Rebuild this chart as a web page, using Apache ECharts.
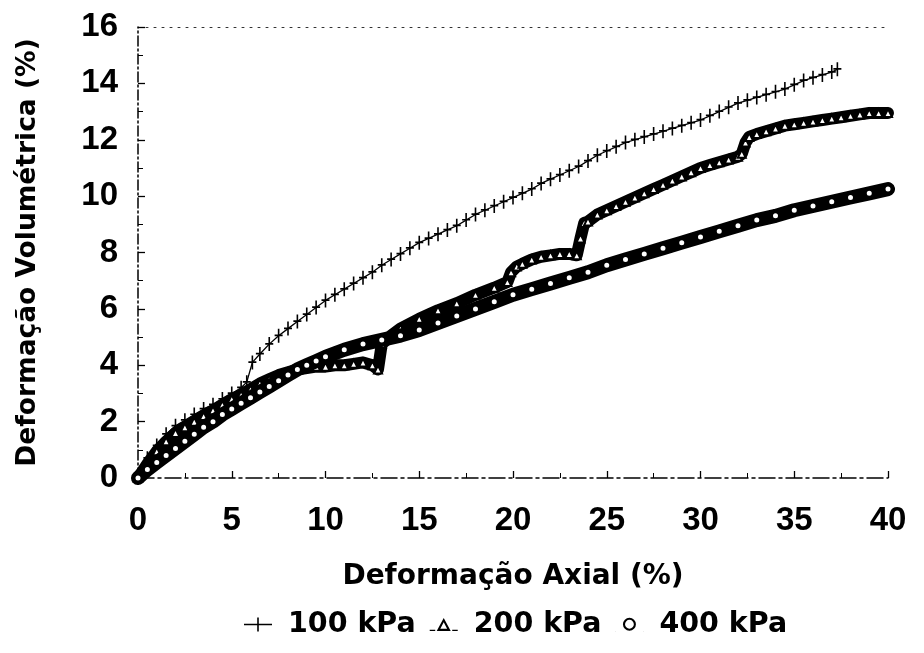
<!DOCTYPE html>
<html>
<head>
<meta charset="utf-8">
<script src="https://cdn.jsdelivr.net/npm/echarts@6/dist/echarts.min.js"></script>
<style>html,body{margin:0;padding:0;background:#fff}#c{width:924px;height:653px}</style>
</head>
<body>
<div id="c"></div>
<script>
var xTicks = [0, 5, 10, 15, 20, 25, 30, 35, 40];
var yTicks = [0, 2, 4, 6, 8, 10, 12, 14, 16];
var seriesNames = ['100 kPa', '200 kPa', '400 kPa'];

var x100 = [0,0.5,1,1.5,2,2.5,3,3.5,4,4.5,5,5.5,5.8,6.1,6.5,7,7.5,8,8.5,9,9.5,10,10.5,11,11.5,12,12.5,13,13.5,14,14.5,15,15.5,16,16.5,17,17.5,18,18.5,19,19.5,20,20.5,21,21.5,22,22.5,23,23.5,24,24.5,25,25.5,26,26.5,27,27.5,28,28.5,29,29.5,30,30.5,31,31.5,32,32.5,33,33.5,34,34.5,35,35.5,36,36.5,37,37.3];
var y100 = [0,0.7,1.15,1.55,1.85,2.05,2.25,2.45,2.6,2.8,3.0,3.2,3.4,4.1,4.4,4.75,5.05,5.3,5.55,5.8,6.05,6.3,6.5,6.7,6.9,7.1,7.3,7.55,7.75,7.95,8.15,8.35,8.5,8.65,8.8,8.95,9.15,9.35,9.5,9.65,9.8,9.95,10.1,10.25,10.45,10.6,10.75,10.9,11.05,11.25,11.45,11.6,11.75,11.9,12.0,12.1,12.2,12.3,12.4,12.5,12.6,12.7,12.85,13.0,13.15,13.3,13.4,13.5,13.6,13.7,13.8,13.95,14.1,14.2,14.3,14.4,14.5];

var x200 = [0,0.5,1,1.5,2,2.5,3,3.5,4,4.5,5,5.5,6,6.5,7,7.5,8,8.5,9,9.5,10,10.5,11,11.5,12,12.5,12.8,13,13.5,14,15,16,17,18,19,19.7,19.9,20.2,20.5,21,21.5,22,22.5,23,23.4,23.6,23.8,24,24.5,25,25.5,26,26.5,27,27.5,28,28.5,29,29.5,30,30.5,31,31.5,32,32.2,32.4,32.6,33,33.5,34,34.5,35,35.5,36,36.5,37,37.5,38,38.5,39,39.5,40];
var y200 = [0,0.5,0.95,1.3,1.6,1.8,2.0,2.2,2.4,2.6,2.8,2.95,3.15,3.35,3.5,3.65,3.75,3.85,3.9,3.95,3.95,4.0,4.0,4.05,4.1,4.0,3.85,4.75,5.05,5.3,5.65,5.95,6.2,6.5,6.75,6.95,7.3,7.5,7.6,7.75,7.85,7.9,7.95,7.95,7.9,8.5,9.05,9.1,9.35,9.5,9.65,9.8,9.95,10.1,10.25,10.4,10.55,10.7,10.85,11.0,11.1,11.2,11.3,11.4,11.5,11.9,12.1,12.2,12.3,12.4,12.5,12.55,12.6,12.65,12.7,12.75,12.8,12.85,12.9,12.95,12.95,12.95];

var x400 = [0,0.5,1,1.5,2,2.5,3,3.5,4,4.5,5,5.5,6,6.5,7,7.5,8,8.5,9,9.5,10,11,12,13,14,15,16,17,18,19,20,21,22,23,24,25,26,27,28,29,30,31,32,33,34,35,36,37,38,39,40];
var y400 = [0,0.3,0.55,0.8,1.05,1.3,1.55,1.8,2.0,2.25,2.45,2.65,2.85,3.05,3.25,3.45,3.65,3.85,4.0,4.15,4.3,4.55,4.75,4.9,5.05,5.25,5.5,5.75,6.0,6.25,6.5,6.7,6.9,7.1,7.3,7.55,7.75,7.95,8.15,8.35,8.55,8.75,8.95,9.15,9.3,9.5,9.65,9.8,9.95,10.1,10.25];

function zip(a, b) { return a.map(function (v, i) { return [v, b[i]]; }); }

var plusPath = 'path://M3.2,0h1.6v5.4h3.2v1.6h-3.2v6h-1.6v-6h-3.2v-1.6h3.2z';
var icon100 = 'path://M0,6.3h28v1.4h-28z M13.2,0h1.6v14h-1.6z';
var icon200 = 'path://M14,0L21,13L7,13Z M14,4.2L10.6,10.8L17.4,10.8Z M0,11.8h5.5v1.2h-5.5z M22.5,11.8h5.5v1.2h-5.5z';
var icon400 = 'path://M14,0.5A6.5,6.5 0 1 1 13.99,0.5Z M14,2.6A4.4,4.4 0 1 0 14.01,2.6Z M0,13.7h0.3v0.3h-0.3z M27.7,13.7h0.3v0.3h-0.3z';

var lblFont = '"Liberation Sans", Arial, sans-serif';
var titleFont = '"DejaVu Sans", sans-serif';

var chart = echarts.init(document.getElementById('c'), null, {renderer: 'canvas'});
chart.setOption({
  backgroundColor: '#ffffff',
  animation: false,
  grid: {left: 138, top: 27, width: 750, bottom: 175, containLabel: false},
  legend: {
    left: 239, top: 605,
    itemWidth: 28, itemHeight: 14, itemGap: 14,
    textStyle: {fontFamily: titleFont, fontWeight: 'bold', fontSize: 28.5, color: '#000', padding: [0, 0, 10, 11]},
    data: [
      {name: seriesNames[0], icon: icon100},
      {name: seriesNames[1], icon: icon200},
      {name: seriesNames[2], icon: icon400}
    ]
  },
  xAxis: [{
    type: 'value', min: xTicks[0], max: xTicks[xTicks.length - 1], interval: 5,
    name: 'Deformação Axial (%)', nameLocation: 'middle', nameGap: 85,
    nameTextStyle: {fontFamily: titleFont, fontWeight: 'bold', fontSize: 28, color: '#000'},
    axisLine: {onZero: false, lineStyle: {color: '#000', width: 1.5, type: [16, 4, 3, 4]}},
    axisTick: {inside: true, length: 7, lineStyle: {color: '#000', width: 1.3}},
    minorTick: {show: true, splitNumber: 2, length: 5, lineStyle: {color: '#000', width: 1}},
    axisLabel: {margin: 26, fontFamily: lblFont, fontWeight: 'bold', fontSize: 33, color: '#000'},
    splitLine: {show: false}
  }, {
    type: 'value', position: 'top', min: 0, max: 40, interval: 5,
    axisLine: {show: true, onZero: false, lineStyle: {color: '#333', width: 1, type: [2, 6]}},
    axisTick: {show: false}, axisLabel: {show: false}, splitLine: {show: false}
  }],
  yAxis: {
    type: 'value', min: yTicks[0], max: yTicks[yTicks.length - 1], interval: 2,
    name: 'Deformação Volumétrica (%)', nameLocation: 'middle', nameGap: 96,
    nameTextStyle: {fontFamily: titleFont, fontWeight: 'bold', fontSize: 26.5, color: '#000'},
    axisLine: {show: true, onZero: false, lineStyle: {color: '#000', width: 1.5, type: [10, 3, 2, 3]}},
    axisTick: {show: true, inside: true, length: 7, lineStyle: {color: '#000', width: 1.3}},
    minorTick: {show: true, splitNumber: 2, length: 5, lineStyle: {color: '#000', width: 1}},
    axisLabel: {margin: 20, fontFamily: lblFont, fontWeight: 'bold', fontSize: 33, color: '#000'},
    splitLine: {show: false}
  },
  series: [{
    name: seriesNames[0], type: 'line', xAxisIndex: 0, z: 2,
    data: zip(x100, y100),
    symbol: plusPath, symbolSize: [8, 14],
    itemStyle: {color: '#000'},
    lineStyle: {color: '#000', width: 1.3}
  }, {
    name: seriesNames[1], type: 'line', xAxisIndex: 0, z: 3,
    data: zip(x200, y200),
    symbol: 'emptyTriangle', symbolSize: 8,
    itemStyle: {color: '#000', borderWidth: 1.5},
    lineStyle: {color: '#000', width: 12, cap: 'round', join: 'round'}
  }, {
    name: seriesNames[2], type: 'line', xAxisIndex: 0, z: 4,
    data: zip(x400, y400),
    symbol: 'emptyCircle', symbolSize: 7,
    itemStyle: {color: '#000', borderWidth: 1.5},
    lineStyle: {color: '#000', width: 14, cap: 'round', join: 'round'}
  }]
});
</script>
</body>
</html>
